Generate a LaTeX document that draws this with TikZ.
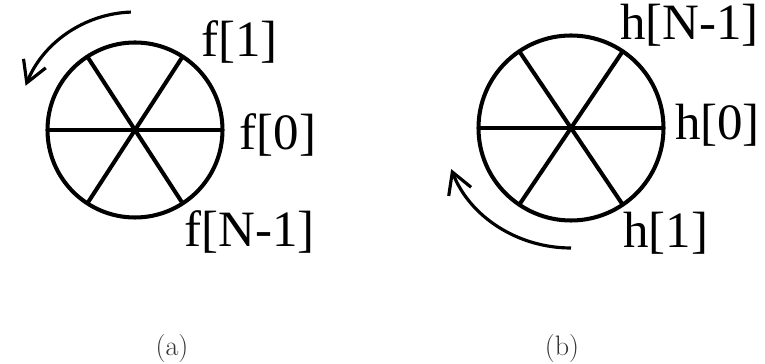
\documentclass[tikz,border=0pt]{standalone}
\usepackage{fontspec}
\newfontfamily\lblfont{Liberation Serif}
\usetikzlibrary{arrows.meta,positioning,calc}
\tikzset{
  wheel/.style={circle, draw, line width=2.3pt, inner sep=0pt, outer sep=0pt},
  spoke/.style={line width=2.3pt},
  rotarr/.style={-{Straight Barb[length=4.2mm, width=4.8mm]}, line width=1.8pt},
  lbl/.style={font=\lblfont\fontsize{29}{31}\selectfont, inner sep=0pt},
  captxt/.style={font=\fontsize{16}{18}\selectfont, text=black!80, inner sep=0pt},
}
\begin{document}
\begin{tikzpicture}
  \useasboundingbox (0,0) rectangle (15.3,7.28);
  % (a) left wheel
  \begin{scope}[shift={(2.70,4.68)}]
    \node[wheel, minimum size=3.5cm] (fwheel) at (0,0) {};
    \foreach \a/\b in {0/180,57/237,123/303}{\draw[spoke] (fwheel.\a) -- (fwheel.\b);}
    \coordinate (fstart) at (92:2.36);
    \draw[rotarr] (fstart) arc[start angle=92, end angle=158, radius=2.36];
    \node[lbl] (f1) at (40:2.73) {f[1]};
    \node[lbl] (f0) at (-2:2.86) {f[0]};
    \node[lbl] (fN) at (-41.6:3.07) {f[N-1]};
  \end{scope}
  % (b) right wheel
  \begin{scope}[shift={(11.42,4.72)}]
    \node[wheel, minimum size=3.7cm] (hwheel) at (0,0) {};
    \foreach \a/\b in {0/180,56/236,124/304}{\draw[spoke] (hwheel.\a) -- (hwheel.\b);}
    \coordinate (hstart) at (-90:2.4);
    \draw[rotarr] (hstart) arc[start angle=-90, end angle=-160, x radius=2.55, y radius=2.4];
    \node[lbl] (hN) at (41:3.14) {h[N-1]};
    \node[lbl] (h0) at (1:2.93) {h[0]};
    \node[lbl] (h1) at (-47.9:2.83) {h[1]};
  \end{scope}
  % captions
  \node[captxt] (capa) at (3.44,0.32) {(a)};
  \node[captxt] (capb) at (11.24,0.32) {(b)};
\end{tikzpicture}
\end{document}
